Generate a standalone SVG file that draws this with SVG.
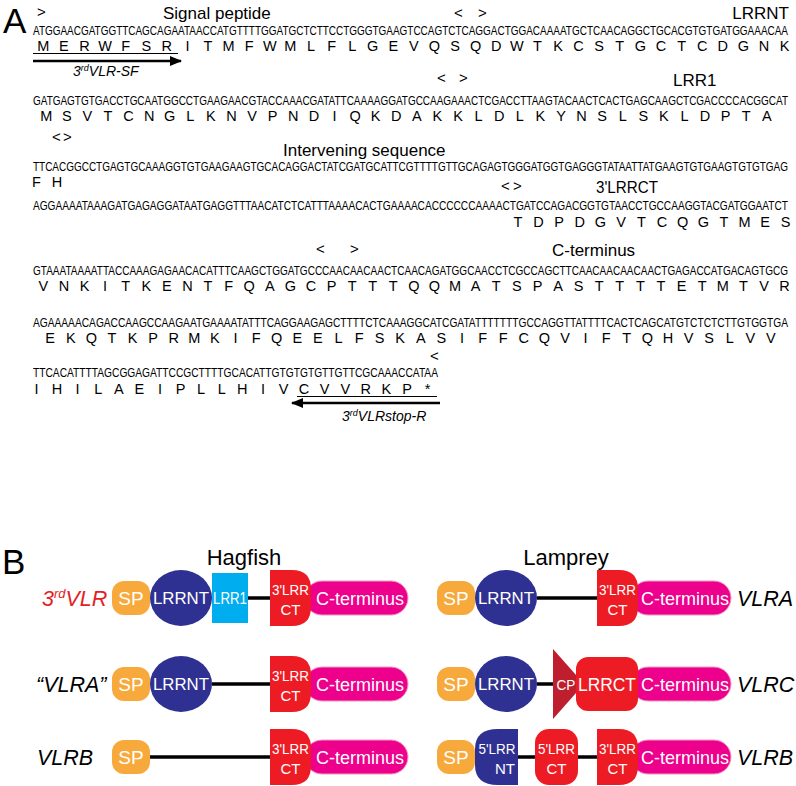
<svg xmlns="http://www.w3.org/2000/svg" width="796" height="786" viewBox="0 0 796 786">
<style>
.lbl{font-family:'Liberation Sans',Arial,sans-serif;font-size:17px;fill:#000}
.big{font-family:'Liberation Sans',Arial,sans-serif;font-size:35px;fill:#000}
.mk{font-family:'Liberation Sans',Arial,sans-serif;font-size:15px;fill:#000}
.dna{font-family:'Liberation Sans',Arial,sans-serif;font-size:9.9px;fill:#000}
.aa{font-family:'Liberation Sans Narrow','Liberation Sans',Arial,sans-serif;font-size:14.5px;fill:#000;text-anchor:middle}
.pr{font-family:'Liberation Sans',Arial,sans-serif;font-size:14px;font-style:italic;fill:#000}
.wt{font-family:'Liberation Sans Narrow','Liberation Sans',Arial,sans-serif;fill:#fff;text-anchor:middle}
.nm{font-family:'Liberation Sans',Arial,sans-serif;font-size:21.5px;font-style:italic;fill:#000}
.sp{fill:#f8a93b}
.nt{fill:#2e3192}
.lrr1{fill:#00aeef}
.ct{fill:#ed1c24}
.cterm{fill:#ec008c;stroke:#f49ac1;stroke-width:1}
.cp{fill:#be1e2d}
.con{stroke:#000;stroke-width:3.5;fill:none}
.ul{stroke:#000;stroke-width:1.2}
.arr{stroke:#000;stroke-width:2.5;marker-end:url(#ah)}
</style>
<defs>
<marker id="ah" markerWidth="12" markerHeight="10" refX="11" refY="5" orient="auto" markerUnits="userSpaceOnUse"><path d="M0,0 L12,5 L0,10 Z" fill="#000"/></marker>
</defs>

<g id="panelA">
<text class="big" x="3" y="33">A</text>
<!-- row 1 -->
<text class="mk" x="37" y="17">&gt;</text>
<text class="lbl" x="163" y="19">Signal peptide</text>
<text class="mk" x="454" y="18">&lt;</text>
<text class="mk" x="478" y="18">&gt;</text>
<text class="lbl" x="789" y="19" text-anchor="end">LRRNT</text>
<text class="dna" transform="translate(33,35) scale(1,1.36)" x="0" y="0" textLength="755" lengthAdjust="spacingAndGlyphs">ATGGAACGATGGTTCAGCAGAATAACCATGTTTTGGATGCTCTTCCTGGGTGAAGTCCAGTCTCAGGACTGGACAAAATGCTCAACAGGCTGCACGTGTGATGGAAACAA</text>
<text class="aa" y="51" x="43.3 53.6 63.9 74.2 84.5 94.8 105.1 115.4 125.7 136 146.3 156.6 166.8 177.1 187.4 197.7 208 218.3 228.6 238.9 249.2 259.5 269.8 280.1 290.4 300.7 311 321.3 331.6 341.9 352.2 362.5 372.7 383 393.3 403.6 413.9 424.2 434.5 444.8 455.1 465.4 475.7 486 496.3 506.6 516.9 527.2 537.5 547.8 558.1 568.4 578.6 588.9 599.2 609.5 619.8 630.1 640.4 650.7 661 671.3 681.6 691.9 702.2 712.5 722.8 733.1 743.4 753.7 764 774.3 784.5">M E R W F S R I T M F W M L F L G E V Q S Q D W T K C S T G C T C D G N K</text>
<line class="ul" x1="33" y1="53.5" x2="178" y2="53.5"/>
<line class="arr" x1="33" y1="61" x2="181" y2="61"/>
<text class="pr" x="73" y="76">3<tspan font-size="9" dy="-5">rd</tspan><tspan dy="5">VLR-SF</tspan></text>

<!-- row 2 -->
<text class="mk" x="437" y="83">&lt;</text>
<text class="mk" x="459" y="83">&gt;</text>
<text class="lbl" x="673" y="86">LRR1</text>
<text class="dna" transform="translate(33,105) scale(1,1.36)" x="0" y="0" textLength="755" lengthAdjust="spacingAndGlyphs">GATGAGTGTGACCTGCAATGGCCTGAAGAACGTACCAAACGATATTCAAAAGGATGCCAAGAAACTCGACCTTAAGTACAACTCACTGAGCAAGCTCGACCCCACGGCAT</text>
<text class="aa" y="121" x="46.2 56.5 66.8 77.1 87.4 97.7 108 118.3 128.6 138.9 149.2 159.5 169.7 180 190.3 200.6 210.9 221.2 231.5 241.8 252.1 262.4 272.7 283 293.3 303.6 313.9 324.2 334.5 344.8 355.1 365.4 375.6 385.9 396.2 406.5 416.8 427.1 437.4 447.7 458 468.3 478.6 488.9 499.2 509.5 519.8 530.1 540.4 550.7 561 571.3 581.5 591.8 602.1 612.4 622.7 633 643.3 653.6 663.9 674.2 684.5 694.8 705.1 715.4 725.7 736 746.3 756.6 766.9">M S V T C N G L K N V P N D I Q K D A K K L D L K Y N S L S K L D P T A</text>

<!-- row 3 -->
<text class="mk" x="52" y="142">&lt;</text>
<text class="mk" x="63" y="142">&gt;</text>
<text class="lbl" x="283" y="156">Intervening sequence</text>
<text class="dna" transform="translate(33,171) scale(1,1.36)" x="0" y="0" textLength="755" lengthAdjust="spacingAndGlyphs">TTCACGGCCTGAGTGCAAAGGTGTGAAGAAGTGCACAGGACTATCGATGCATTCGTTTTGTTGCAGAGTGGGATGGTGAGGGTATAATTATGAAGTGTGAAGTGTGTGAG</text>
<text class="aa" y="187" x="36.4 46.7 57">F H</text>

<!-- row 4 -->
<text class="mk" x="501" y="191">&lt;</text>
<text class="mk" x="513" y="191">&gt;</text>
<text class="lbl" x="596" y="193" textLength="62" lengthAdjust="spacingAndGlyphs">3'LRRCT</text>
<text class="dna" transform="translate(33,210) scale(1,1.36)" x="0" y="0" textLength="755" lengthAdjust="spacingAndGlyphs">AGGAAAATAAAGATGAGAGGATAATGAGGTTTAACATCTCATTTAAAACACTGAAAACACCCCCCAAAACTGATCCAGACGGTGTAACCTGCCAAGGTACGATGGAATCT</text>
<text class="aa" y="227" x="518 528.3 538.6 548.9 559.2 569.5 579.8 590.1 600.4 610.7 621 631.3 641.5 651.8 662.1 672.4 682.7 693 703.3 713.6 723.9 734.2 744.5 754.8 765.1 775.4 785.7">T D P D G V T C Q G T M E S</text>

<!-- row 5 -->
<text class="mk" x="316" y="254">&lt;</text>
<text class="mk" x="350" y="254">&gt;</text>
<text class="lbl" x="552" y="256">C-terminus</text>
<text class="dna" transform="translate(33,275) scale(1,1.36)" x="0" y="0" textLength="755" lengthAdjust="spacingAndGlyphs">GTAAATAAAATTACCAAAGAGAACACATTTCAAGCTGGATGCCCAACAACAACTCAACAGATGGCAACCTCGCCAGCTTCAACAACAACAACTGAGACCATGACAGTGCG</text>
<text class="aa" y="291" x="43.3 53.6 63.9 74.2 84.5 94.8 105.1 115.4 125.7 136 146.3 156.6 166.8 177.1 187.4 197.7 208 218.3 228.6 238.9 249.2 259.5 269.8 280.1 290.4 300.7 311 321.3 331.6 341.9 352.2 362.5 372.7 383 393.3 403.6 413.9 424.2 434.5 444.8 455.1 465.4 475.7 486 496.3 506.6 516.9 527.2 537.5 547.8 558.1 568.4 578.6 588.9 599.2 609.5 619.8 630.1 640.4 650.7 661 671.3 681.6 691.9 702.2 712.5 722.8 733.1 743.4 753.7 764 774.3 784.5">V N K I T K E N T F Q A G C P T T T Q Q M A T S P A S T T T T E T M T V R</text>

<!-- row 6 -->
<text class="dna" transform="translate(33,327) scale(1,1.36)" x="0" y="0" textLength="755" lengthAdjust="spacingAndGlyphs">AGAAAAACAGACCAAGCCAAGAATGAAAATATTTCAGGAAGAGCTTTTCTCAAAGGCATCGATATTTTTTTGCCAGGTTATTTTCACTCAGCATGTCTCTCTTGTGGTGA</text>
<text class="aa" y="343" x="50.2 60.5 70.8 81.1 91.4 101.7 112 122.3 132.6 142.9 153.2 163.5 173.7 184 194.3 204.6 214.9 225.2 235.5 245.8 256.1 266.4 276.7 287 297.3 307.6 317.9 328.2 338.5 348.8 359.1 369.4 379.6 389.9 400.2 410.5 420.8 431.1 441.4 451.7 462 472.3 482.6 492.9 503.2 513.5 523.8 534.1 544.4 554.7 565 575.3 585.5 595.8 606.1 616.4 626.7 637 647.3 657.6 667.9 678.2 688.5 698.8 709.1 719.4 729.7 740 750.3 760.6 770.9">E K Q T K P R M K I F Q E E L F S K A S I F F C Q V I F T Q H V S L V V</text>

<!-- row 7 -->
<text class="mk" x="430" y="361">&lt;</text>
<text class="dna" transform="translate(33,377) scale(1,1.36)" x="0" y="0" textLength="405" lengthAdjust="spacingAndGlyphs">TTCACATTTTAGCGGAGATTCCGCTTTTGCACATTGTGTGTGTTGTTCGCAAACCATAA</text>
<text class="aa" y="394" x="36.4 46.7 57 67.3 77.6 87.9 98.2 108.5 118.8 129.1 139.4 149.7 159.9 170.2 180.5 190.8 201.1 211.4 221.7 232 242.3 252.6 262.9 273.2 283.5 293.8 304.1 314.4 324.7 335 345.3 355.6 365.8 376.1 386.4 396.7 407 417.3 427.6">I H I L A E I P L L H I V C V V R K P *</text>
<line class="ul" x1="297" y1="396.5" x2="437" y2="396.5"/>
<line class="arr" x1="440" y1="403" x2="292" y2="403"/>
<text class="pr" x="342" y="421">3<tspan font-size="9" dy="-5">rd</tspan><tspan dy="5">VLRstop-R</tspan></text>
</g>

<g id="panelB-labels">
<text class="big" x="2" y="574">B</text>
<text class="lbl" x="244" y="565" text-anchor="middle" style="font-size:22px">Hagfish</text>
<text class="lbl" x="566" y="565" text-anchor="middle" style="font-size:22px">Lamprey</text>
<text class="nm" x="42" y="606" style="fill:#e31e24">3<tspan font-size="13" dy="-8">rd</tspan><tspan dy="8">VLR</tspan></text>
<text class="nm" x="36" y="692">“VLRA”</text>
<text class="nm" x="37" y="765">VLRB</text>
<text class="nm" x="737" y="606">VLRA</text>
<text class="nm" x="737" y="692">VLRC</text>
<text class="nm" x="737" y="765">VLRB</text>
</g>

<g id="connectors">
<line class="con" x1="248" y1="598" x2="272" y2="598"/>
<line class="con" x1="537" y1="598" x2="599" y2="598"/>
<line class="con" x1="212" y1="684" x2="272" y2="684"/>
<line class="con" x1="537" y1="684" x2="556" y2="684"/>
<line class="con" x1="150" y1="757" x2="272" y2="757"/>
<line class="con" x1="516" y1="757" x2="537" y2="757"/>
<line class="con" x1="576" y1="757" x2="599" y2="757"/>
</g>

<!-- Hagfish 3rd VLR -->
<g id="h1-sp"><rect class="sp" x="112" y="581" width="38" height="34" rx="12"/><text class="wt" x="131" y="605" font-size="19">SP</text></g>
<g id="h1-lrrnt"><ellipse class="nt" cx="181" cy="598" rx="31" ry="28"/><text class="wt" x="181" y="604" font-size="17" textLength="56" lengthAdjust="spacingAndGlyphs">LRRNT</text></g>
<g id="h1-lrr1"><rect class="lrr1" x="212" y="573" width="36" height="50"/><text class="wt" x="230" y="604" font-size="16" textLength="34" lengthAdjust="spacingAndGlyphs">LRR1</text></g>
<g id="h1-cterm"><rect class="cterm" x="305" y="581" width="103" height="34" rx="17"/><text class="wt" x="360" y="605" font-size="19" textLength="88" lengthAdjust="spacingAndGlyphs">C-terminus</text></g>
<g id="h1-ct"><path class="ct" d="M270,570 H292 Q311,570 311,589 V607 Q311,626 292,626 H270 Z"/><text class="wt" x="290.5" y="595" font-size="15" textLength="37" lengthAdjust="spacingAndGlyphs">3'LRR</text><text class="wt" x="290.5" y="615" font-size="15">CT</text></g>

<!-- Hagfish VLRA -->
<g id="h2-sp"><rect class="sp" x="112" y="667" width="38" height="34" rx="12"/><text class="wt" x="131" y="691" font-size="19">SP</text></g>
<g id="h2-lrrnt"><ellipse class="nt" cx="181" cy="684" rx="31" ry="28"/><text class="wt" x="181" y="690" font-size="17" textLength="56" lengthAdjust="spacingAndGlyphs">LRRNT</text></g>
<g id="h2-cterm"><rect class="cterm" x="305" y="667" width="103" height="34" rx="17"/><text class="wt" x="360" y="691" font-size="19" textLength="88" lengthAdjust="spacingAndGlyphs">C-terminus</text></g>
<g id="h2-ct"><path class="ct" d="M270,656 H292 Q311,656 311,675 V693 Q311,712 292,712 H270 Z"/><text class="wt" x="290.5" y="681" font-size="15" textLength="37" lengthAdjust="spacingAndGlyphs">3'LRR</text><text class="wt" x="290.5" y="701" font-size="15">CT</text></g>

<!-- Hagfish VLRB -->
<g id="h3-sp"><rect class="sp" x="112" y="740" width="38" height="34" rx="12"/><text class="wt" x="131" y="764" font-size="19">SP</text></g>
<g id="h3-cterm"><rect class="cterm" x="305" y="740" width="103" height="34" rx="17"/><text class="wt" x="360" y="764" font-size="19" textLength="88" lengthAdjust="spacingAndGlyphs">C-terminus</text></g>
<g id="h3-ct"><path class="ct" d="M270,729 H292 Q311,729 311,748 V766 Q311,785 292,785 H270 Z"/><text class="wt" x="290.5" y="754" font-size="15" textLength="37" lengthAdjust="spacingAndGlyphs">3'LRR</text><text class="wt" x="290.5" y="774" font-size="15">CT</text></g>

<!-- Lamprey VLRA -->
<g id="l1-sp"><rect class="sp" x="437" y="581" width="38" height="34" rx="12"/><text class="wt" x="456" y="605" font-size="19">SP</text></g>
<g id="l1-lrrnt"><ellipse class="nt" cx="506" cy="598" rx="31" ry="28"/><text class="wt" x="506" y="604" font-size="17" textLength="56" lengthAdjust="spacingAndGlyphs">LRRNT</text></g>
<g id="l1-cterm"><rect class="cterm" x="631" y="581" width="100" height="34" rx="17"/><text class="wt" x="685" y="605" font-size="19" textLength="88" lengthAdjust="spacingAndGlyphs">C-terminus</text></g>
<g id="l1-ct"><path class="ct" d="M597,570 H619 Q638,570 638,589 V607 Q638,626 619,626 H597 Z"/><text class="wt" x="617.5" y="595" font-size="15" textLength="37" lengthAdjust="spacingAndGlyphs">3'LRR</text><text class="wt" x="617.5" y="615" font-size="15">CT</text></g>

<!-- Lamprey VLRC -->
<g id="l2-sp"><rect class="sp" x="437" y="667" width="38" height="34" rx="12"/><text class="wt" x="456" y="691" font-size="19">SP</text></g>
<g id="l2-lrrnt"><ellipse class="nt" cx="506" cy="684" rx="31" ry="28"/><text class="wt" x="506" y="690" font-size="17" textLength="56" lengthAdjust="spacingAndGlyphs">LRRNT</text></g>
<g id="l2-cp"><polygon class="cp" points="553,649 584,684 553,719"/><text class="wt" x="566" y="690" font-size="15" textLength="19" lengthAdjust="spacingAndGlyphs">CP</text></g>
<g id="l2-cterm"><rect class="cterm" x="631" y="667" width="100" height="34" rx="17"/><text class="wt" x="685" y="691" font-size="19" textLength="88" lengthAdjust="spacingAndGlyphs">C-terminus</text></g>
<g id="l2-lrrct"><rect class="ct" x="576" y="657" width="62" height="54" rx="12"/><text class="wt" x="607" y="691" font-size="18" textLength="58" lengthAdjust="spacingAndGlyphs">LRRCT</text></g>

<!-- Lamprey VLRB -->
<g id="l3-sp"><rect class="sp" x="437" y="740" width="38" height="34" rx="12"/><text class="wt" x="456" y="764" font-size="19">SP</text></g>
<g id="l3-5nt"><path class="nt" d="M518,729 V785 H498 Q475,785 475,765 V749 Q475,729 498,729 Z"/><text class="wt" x="497" y="754" font-size="15" textLength="37" lengthAdjust="spacingAndGlyphs">5'LRR</text><text class="wt" x="505" y="774" font-size="15">NT</text></g>
<g id="l3-5ct"><rect class="ct" x="535" y="729" width="43" height="56" rx="14"/><text class="wt" x="556.5" y="754" font-size="15" textLength="37" lengthAdjust="spacingAndGlyphs">5'LRR</text><text class="wt" x="556.5" y="774" font-size="15">CT</text></g>
<g id="l3-cterm"><rect class="cterm" x="631" y="740" width="100" height="34" rx="17"/><text class="wt" x="685" y="764" font-size="19" textLength="88" lengthAdjust="spacingAndGlyphs">C-terminus</text></g>
<g id="l3-ct"><path class="ct" d="M597,729 H619 Q638,729 638,748 V766 Q638,785 619,785 H597 Z"/><text class="wt" x="617.5" y="754" font-size="15" textLength="37" lengthAdjust="spacingAndGlyphs">3'LRR</text><text class="wt" x="617.5" y="774" font-size="15">CT</text></g>
</svg>
